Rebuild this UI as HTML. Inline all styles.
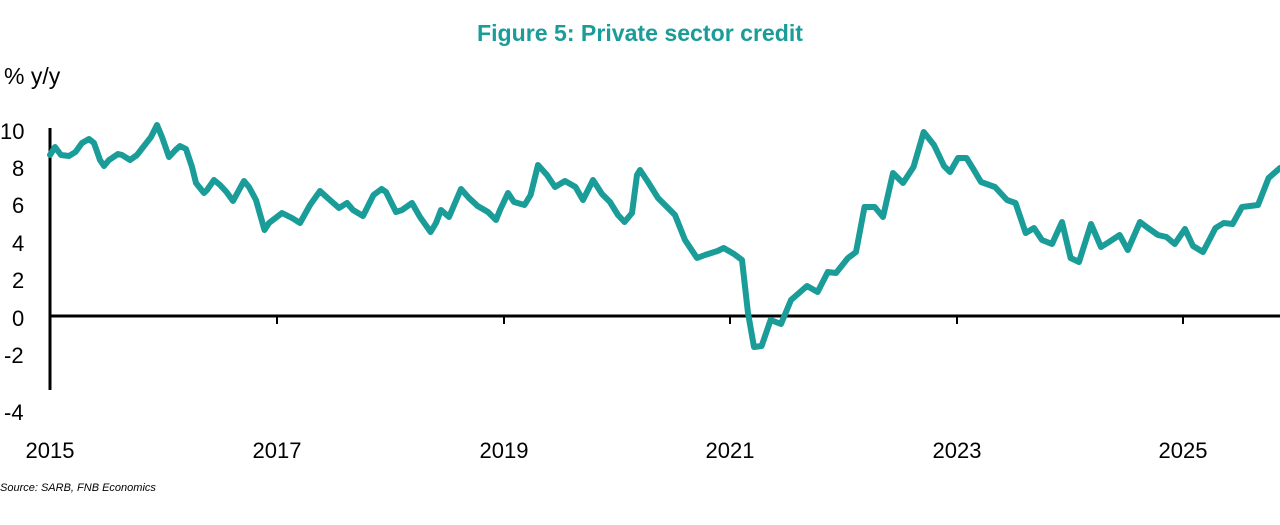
<!DOCTYPE html>
<html><head><meta charset="utf-8"><style>
body{margin:0;background:#fff;width:1280px;height:520px;overflow:hidden}
svg text{font-family:"Liberation Sans",sans-serif}
</style></head><body>
<svg width="1280" height="520" viewBox="0 0 1280 520">
<text x="640" y="41" text-anchor="middle" font-size="23" font-weight="bold" fill="#1a9c99" textLength="326" lengthAdjust="spacingAndGlyphs">Figure 5: Private sector credit</text>
<text x="4" y="84" font-size="23" fill="#000">% y/y</text>
<g font-size="22" fill="#000">
<text x="0" y="139">10</text><text x="12" y="176">8</text><text x="12" y="213">6</text>
<text x="12" y="251">4</text><text x="12" y="288">2</text><text x="12" y="326">0</text>
<text x="4" y="363">-2</text><text x="4" y="420">-4</text>
</g>
<g font-size="22" fill="#000" text-anchor="middle">
<text x="50" y="458">2015</text><text x="277" y="458">2017</text><text x="504" y="458">2019</text>
<text x="730" y="458">2021</text><text x="957" y="458">2023</text><text x="1183" y="458">2025</text>
</g>
<line x1="50" y1="128" x2="50" y2="390" stroke="#000" stroke-width="3"/>
<line x1="50" y1="316" x2="1280" y2="316" stroke="#000" stroke-width="3"/>
<g stroke="#000" stroke-width="2">
<line x1="277" y1="316" x2="277" y2="324"/><line x1="504" y1="316" x2="504" y2="324"/>
<line x1="730" y1="316" x2="730" y2="324"/><line x1="957" y1="316" x2="957" y2="324"/>
<line x1="1183" y1="316" x2="1183" y2="324"/>
</g>
<polyline fill="none" stroke="#1a9c99" stroke-width="6" stroke-linejoin="round" stroke-linecap="round" points="
50,155 55,147 61,155 69,156 75.5,152 82,143 89,139 94,143 100,160 104,166 109,160 118,154 122,155 130,160 137,155 151,137 157,125 162,137 169,157 175.5,150 180,146 186,149 192,167 196,183 204,193 207,190 214,180 220,185 226.5,192 233,201 239,190 244,181 249,187 256,200 264.5,230 269,223 282,213 292,218 300,223 310,205 320,191 326.5,197 339,208 347,203 353,210 363,216 373.5,195 381.6,189 386,192 396,212 402,210 412,203 420,217 430.6,232 436,223 441,210 449,217 461,189 469,198 477.6,206 488,212 496,220 500,210 508,193 514,202 524.5,205 530.6,195 538,165 547,175 555,187 565,181 575.5,187 583,200 593,180 602,194 610,202 618,215 624.5,222 632,213 637,175 640,170
648,182 658,198 675,215 685,240 697,258 705,255 717.5,251 723.7,248 734,254 742,260 748,313 754,347 761.6,346 770.6,320 781,324 791,300 807,286 817.6,292 827.8,272 836,273 848,258 856,252 864.5,207 874.7,207 883,217 893,173 903,183 913.5,167 923.7,132 934,145 944,166 950,172 958,158 966.5,158 972.7,168 981,182 995,187 1007,200 1015.5,203 1025.7,233 1034,228 1042,240 1052,244 1062,222 1070.6,258 1079,262 1091,224 1101,247 1109,242 1119.6,235 1127.8,250 1140,222 1148,228 1158,235 1166.5,237 1174.7,244 1185,229 1193,246 1203,252 1215.5,228 1223.7,223 1232.6,224 1242,207 1258,205 1268.6,178 1280,168"/>
<text x="0" y="491" font-size="11" font-style="italic" fill="#000">Source: SARB, FNB Economics</text>
</svg>
</body></html>
